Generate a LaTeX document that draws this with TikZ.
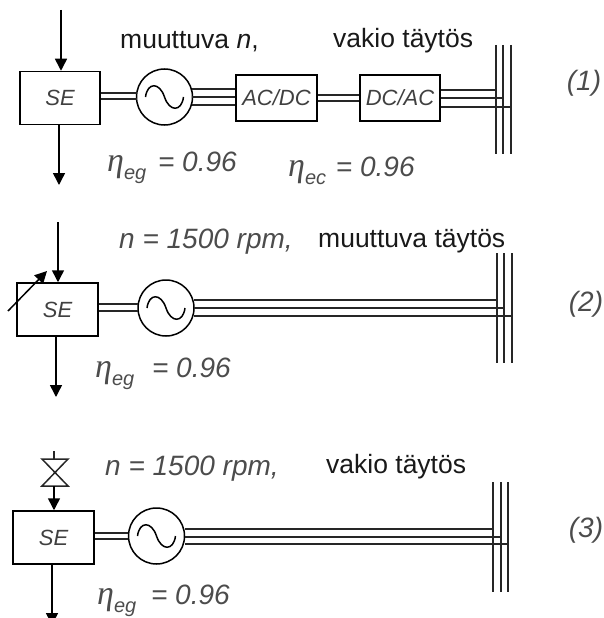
\documentclass[tikz,border=0pt]{standalone}
\usepackage{fontspec}
\setmainfont{Liberation Sans}
\newfontfamily\etafont{Liberation Serif}
\usetikzlibrary{arrows.meta}
\tikzset{
    block/.style = {shape=rectangle, draw, line width=1.5pt, inner sep=0pt, font=\itshape\fontsize{22}{22}\selectfont, text=black!75},
    gen/.style = {shape=circle, draw, line width=1.5pt, minimum size=56pt, inner sep=0pt},
    wire/.style = {line width=1.5pt, black!85},
    flow/.style = {line width=1.5pt, -{Triangle[length=12pt,width=12pt]}},
    bus/.style = {line width=1.5pt, black!85},
    plain/.style = {inner sep=0pt, font=\fontsize{26.5}{26}\selectfont, text=black!90},
    note/.style = {inner sep=0pt, font=\itshape\fontsize{28}{28}\selectfont, text=black!70},
    eff/.style = {inner sep=0pt, font=\itshape\fontsize{28}{28}\selectfont, text=black!70}
}
\newcommand{\sinewave}[1]{\draw[line width=1.5pt, shift={(#1)}] (-19pt, 0pt) .. controls (-17pt, 15pt) and (-5pt, 15pt) .. (0pt, 0pt) .. controls (5pt, -15pt) and (17pt, -15pt) .. (19pt, 0pt);}
\newcommand{\effic}[1]{{\etafont\fontsize{34}{34}\selectfont η}\raisebox{-8pt}{\fontsize{20}{20}\selectfont #1}}
\begin{document}
\begin{tikzpicture}[x=1pt, y=-1pt]
    \useasboundingbox (0, 0) rectangle (603, 618);

    % row 1
    \node[block, minimum width=80pt, minimum height=53pt] (se1) at (60, 98) {SE};
    \node[gen] (gen1) at (164.5, 97) {};
    \node[block, minimum width=81pt, minimum height=46pt] (acdc) at (276.5, 98) {AC/DC};
    \node[block, minimum width=80pt, minimum height=46pt] (dcac) at (400, 98) {DC/AC};
    \node[plain, anchor=west] (top1a) at (120, 42) {muuttuva \textit{n},};
    \node[plain, anchor=west] (top1b) at (333, 41) {vakio täytös};
    \node[eff, anchor=west] (eta1a) at (107, 168) {\effic{eg}\hspace{4pt} = 0.96};
    \node[eff, anchor=west] (eta1b) at (288, 171) {\effic{ec}\hspace{2pt} = 0.96};
    \node[note] (num1) at (584, 83) {(1)};
    \coordinate (in1) at (61, 10);
    \coordinate (out1) at (59, 185);
    \coordinate (busa1) at (496, 45);
    \coordinate (busb1) at (503, 45);
    \coordinate (busc1) at (511, 45);
    \draw[flow] (in1) -- (in1 |- se1.north);
    \draw[flow] (out1 |- se1.south) -- (out1);
    \foreach \y in {93, 99}
        \draw[wire] (se1.east |- 0, \y) -- (137, \y);
    \foreach \y in {89, 97, 105}
        \draw[wire] (192, \y) -- (acdc.west |- 0, \y);
    \foreach \y in {95, 101}
        \draw[wire] (acdc.east |- 0, \y) -- (dcac.west |- 0, \y);
    \draw[wire] (dcac.east |- 0, 90) -- (busa1 |- 0, 90);
    \draw[wire] (dcac.east |- 0, 98) -- (busb1 |- 0, 98);
    \draw[wire] (dcac.east |- 0, 107) -- (busc1 |- 0, 107);
    \foreach \b in {busa1, busb1, busc1}
        \draw[bus] (\b) -- ++(0, 109);
    \sinewave{gen1}

    % row 2
    \node[block, minimum width=81pt, minimum height=53pt] (se2) at (57.5, 309.5) {SE};
    \node[gen] (gen2) at (166, 308) {};
    \node[note, anchor=west] (top2a) at (119, 242) {n = 1500 rpm,};
    \node[plain, anchor=west] (top2b) at (318, 241) {muuttuva täytös};
    \node[eff, anchor=west] (eta2) at (95, 374) {\effic{eg}\hspace{10pt} = 0.96};
    \node[note] (num2) at (586, 304) {(2)};
    \coordinate (in2) at (58, 222);
    \coordinate (out2) at (56, 397);
    \coordinate (varfrom) at (8, 311);
    \coordinate (varto) at (47, 271);
    \coordinate (busa2) at (497, 253);
    \coordinate (busb2) at (504, 253);
    \coordinate (busc2) at (512, 253);
    \draw[flow] (in2) -- (in2 |- se2.north);
    \draw[flow] (out2 |- se2.south) -- (out2);
    \draw[flow] (varfrom) -- (varto);
    \foreach \y in {304, 311}
        \draw[wire] (se2.east |- 0, \y) -- (138, \y);
    \draw[wire] (194, 300) -- (busa2 |- 0, 300);
    \draw[wire] (194, 308) -- (busb2 |- 0, 308);
    \draw[wire] (194, 316) -- (busc2 |- 0, 316);
    \foreach \b in {busa2, busb2, busc2}
        \draw[bus] (\b) -- ++(0, 110);
    \sinewave{gen2}

    % row 3
    \node[block, minimum width=81pt, minimum height=53pt] (se3) at (53.5, 537.5) {SE};
    \node[gen] (gen3) at (156.5, 536) {};
    \node[note, anchor=west] (top3a) at (105, 469) {n = 1500 rpm,};
    \node[plain, anchor=west] (top3b) at (326, 467) {vakio täytös};
    \node[eff, anchor=west] (eta3) at (97, 601) {\effic{eg}\hspace{7pt} = 0.96};
    \node[note] (num3) at (586, 530) {(3)};
    \coordinate (valvetop) at (54, 451);
    \coordinate (valvelow) at (54, 486);
    \coordinate (out3) at (52, 625);
    \coordinate (busa3) at (493, 482);
    \coordinate (busb3) at (501, 482);
    \coordinate (busc3) at (508, 482);
    \draw[wire] (valvetop) -- ++(0, 8);
    \draw[wire] (42, 459) -- (68, 459) -- (42, 486) -- (68, 486) -- cycle;
    \draw[flow] (valvelow) -- (valvelow |- se3.north);
    \draw[flow] (out3 |- se3.south) -- (out3);
    \foreach \y in {533, 539}
        \draw[wire] (se3.east |- 0, \y) -- (128, \y);
    \draw[wire] (185, 529) -- (busa3 |- 0, 529);
    \draw[wire] (185, 537) -- (busb3 |- 0, 537);
    \draw[wire] (185, 544) -- (busc3 |- 0, 544);
    \foreach \b in {busa3, busb3, busc3}
        \draw[bus] (\b) -- ++(0, 110);
    \sinewave{gen3}
\end{tikzpicture}
\end{document}
